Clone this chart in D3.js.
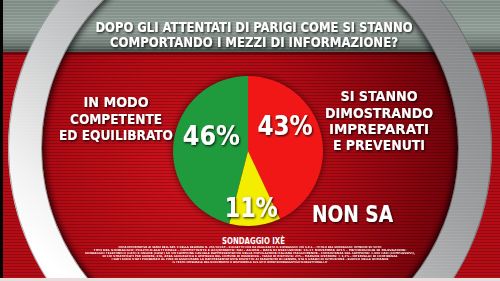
<!DOCTYPE html>
<html>
<head>
<meta charset="utf-8">
<script src="https://cdn.jsdelivr.net/npm/d3@7"></script>
<style>
  html, body { margin: 0; padding: 0; background: #000; }
  svg { display: block; }
  text { font-family: "Liberation Sans Narrow", "DejaVu Sans Condensed", "Liberation Sans", sans-serif; font-weight: bold; }
</style>
</head>
<body>
<div id="chart"></div>
<script>
// ---- DATA ----
const titleLines = ["DOPO GLI ATTENTATI DI PARIGI COME SI STANNO", "COMPORTANDO I MEZZI DI INFORMAZIONE?"];
const categories = ["IN MODO COMPETENTE ED EQUILIBRATO", "SI STANNO DIMOSTRANDO IMPREPARATI E PREVENUTI", "NON SA"];
const values = [46, 43, 11];
const leftLabelLines = ["IN MODO", "COMPETENTE", "ED EQUILIBRATO"];
const rightLabelLines = ["SI STANNO", "DIMOSTRANDO", "IMPREPARATI", "E PREVENUTI"];
const outsideLabel = "NON SA";
const sourceLabel = "SONDAGGIO IXÈ";
const footnoteLines = [
  "NOTA INFORMATIVA AI SENSI DELL'ART. 9 DELLA DELIBERA N. 256/10/CSP - SOGGETTO CHE HA REALIZZATO IL SONDAGGIO: IXÈ S.R.L. - TITOLO DEL SONDAGGIO: OPINIONI SU VOTO",
  "TIPO DEL SONDAGGIO: POLITICO-ELETTORALE - COMMITTENTE E ACQUIRENTE: RAI - AGORÀ - DATA DI ESECUZIONE: 16-17 NOVEMBRE 2015 - METODOLOGIA DI RILEVAZIONE:",
  "SONDAGGIO TELEFONICO (CATI) E ONLINE (CAWI) SU UN CAMPIONE CASUALE RAPPRESENTATIVO DELLA POPOLAZIONE ITALIANA MAGGIORENNE - CONSISTENZA DEL CAMPIONE: 1.000 CASI (COMPLESSIVI),",
  "DI CUI STRATIFICATI PER GENERE, ETÀ, AREA GEOGRAFICA E AMPIEZZA DEL COMUNE DI RESIDENZA - TASSO DI RISPOSTA: 21% - MARGINE D'ERRORE: ± 3,1% - INTERVALLO DI CONFIDENZA",
  "I DATI SONO STATI PONDERATI AL FINE DI ASSICURARE LA RAPPRESENTATIVITÀ RISPETTO AI PARAMETRI DI GENERE, ETÀ E GRADO DI ISTRUZIONE - ELENCO DELLE DOMANDE",
  "IL TESTO INTEGRALE DEL DOCUMENTO È DISPONIBILE SUL SITO WWW.SONDAGGIPOLITICOELETTORALI.IT"
];

// ---- STYLE / LAYOUT ----
const W = 500, H = 281;
const sliceColors = ["#1f9b3e", "#f21717", "#f3ed00"];
const pieC = { x: 248, y: 151, r: 75 };
const ring = { cx: 250, cy: 148, rIn: 208, rOut: 242 };
const pctNudge = [[8, 0], [-7, -6], [-1, 21]];
const pctLen = [57, 55, 53];

const svg = d3.select("#chart").append("svg").attr("width", W).attr("height", H);
const defs = svg.append("defs");

// scanlines
const scan = defs.append("pattern").attr("id", "scan").attr("patternUnits", "userSpaceOnUse")
  .attr("width", 4).attr("height", 3);
scan.append("rect").attr("y", 2).attr("width", 4).attr("height", 1).attr("fill", "rgba(0,0,0,0.2)");
const scanLight = defs.append("pattern").attr("id", "scanLight").attr("patternUnits", "userSpaceOnUse")
  .attr("width", 4).attr("height", 3);
scanLight.append("rect").attr("y", 0).attr("width", 4).attr("height", 1).attr("fill", "rgba(255,255,255,0.13)");

const rg = defs.append("radialGradient").attr("id", "redBg").attr("gradientUnits", "userSpaceOnUse")
  .attr("cx", 190).attr("cy", 175).attr("r", 310);
rg.append("stop").attr("offset", 0).attr("stop-color", "#d0121c");
rg.append("stop").attr("offset", 0.45).attr("stop-color", "#b00a14");
rg.append("stop").attr("offset", 0.8).attr("stop-color", "#7c030c");
rg.append("stop").attr("offset", 1).attr("stop-color", "#5a0008");

const bg = defs.append("linearGradient").attr("id", "band").attr("x1", 0).attr("y1", 0).attr("x2", 0).attr("y2", 1);
bg.append("stop").attr("offset", 0).attr("stop-color", "#7d8a84");
bg.append("stop").attr("offset", 0.55).attr("stop-color", "#8d9a93");
bg.append("stop").attr("offset", 0.85).attr("stop-color", "#6c7872");
bg.append("stop").attr("offset", 1).attr("stop-color", "#3c4540");

const ringG = defs.append("linearGradient").attr("id", "ringG").attr("gradientUnits", "userSpaceOnUse")
  .attr("x1", 420).attr("y1", -60).attr("x2", 90).attr("y2", 300);
ringG.append("stop").attr("offset", 0).attr("stop-color", "#808182");
ringG.append("stop").attr("offset", 0.35).attr("stop-color", "#9c9d9e");
ringG.append("stop").attr("offset", 0.65).attr("stop-color", "#c6c7c8");
ringG.append("stop").attr("offset", 0.9).attr("stop-color", "#f2f2f2");
ringG.append("stop").attr("offset", 1).attr("stop-color", "#ffffff");

const sh = defs.append("filter").attr("id", "tshadow").attr("x", "-20%").attr("y", "-40%").attr("width", "140%").attr("height", "180%");
sh.append("feDropShadow").attr("dx", 1).attr("dy", 1.2).attr("stdDeviation", 0.8)
  .attr("flood-color", "#000").attr("flood-opacity", 0.85);
const blur = defs.append("filter").attr("id", "blur").attr("x", "-20%").attr("y", "-20%").attr("width", "140%").attr("height", "140%");
blur.append("feGaussianBlur").attr("stdDeviation", 3);

defs.append("clipPath").attr("id", "innerClip").append("circle")
  .attr("cx", ring.cx).attr("cy", ring.cy).attr("r", ring.rIn);

// ---- BACKGROUND ----
svg.append("rect").attr("width", W).attr("height", H).attr("fill", "#b50c16");
svg.append("circle").attr("cx", ring.cx).attr("cy", ring.cy).attr("r", ring.rIn + 2).attr("fill", "url(#redBg)");
svg.append("rect").attr("width", W).attr("height", H).attr("fill", "url(#scan)");
// top band
svg.append("rect").attr("x", 0).attr("y", 0).attr("width", W).attr("height", 52).attr("fill", "url(#band)");
svg.append("rect").attr("x", 0).attr("y", 0).attr("width", W).attr("height", 52).attr("fill", "url(#scanLight)");
svg.append("rect").attr("x", 0).attr("y", 52).attr("width", W).attr("height", 3).attr("fill", "rgba(0,0,0,0.35)");
// inner shadow of ring
svg.append("circle").attr("cx", ring.cx).attr("cy", ring.cy).attr("r", ring.rIn + 2)
  .attr("fill", "none").attr("stroke", "rgba(0,0,0,0.7)").attr("stroke-width", 10)
  .attr("filter", "url(#blur)").attr("clip-path", "url(#innerClip)");
// ring
const rMid = (ring.rIn + ring.rOut) / 2;
svg.append("circle").attr("cx", ring.cx).attr("cy", ring.cy).attr("r", rMid)
  .attr("fill", "none").attr("stroke", "url(#ringG)").attr("stroke-width", ring.rOut - ring.rIn);
svg.append("circle").attr("cx", ring.cx).attr("cy", ring.cy).attr("r", rMid)
  .attr("fill", "none").attr("stroke", "url(#scanLight)").attr("stroke-width", ring.rOut - ring.rIn).attr("opacity", 0.5);
svg.append("circle").attr("cx", ring.cx).attr("cy", ring.cy).attr("r", ring.rIn + 0.5)
  .attr("fill", "none").attr("stroke", "rgba(60,60,60,0.5)").attr("stroke-width", 1);
svg.append("circle").attr("cx", ring.cx).attr("cy", ring.cy).attr("r", ring.rOut - 0.5)
  .attr("fill", "none").attr("stroke", "rgba(60,60,60,0.4)").attr("stroke-width", 1);
// frame edges
svg.append("rect").attr("x", 0).attr("y", 0).attr("width", 3).attr("height", H).attr("fill", "#050505");
svg.append("rect").attr("x", 0).attr("y", 278).attr("width", W).attr("height", 3).attr("fill", "#e9dede");

// ---- TITLE ----
const titleY = [32, 47], titleLen = [317, 288];
svg.append("g").selectAll("text").data(titleLines).join("text")
  .attr("x", 254).attr("y", (d, i) => titleY[i])
  .attr("text-anchor", "middle").attr("font-size", 14).attr("fill", "#fff")
  .attr("textLength", (d, i) => titleLen[i]).attr("lengthAdjust", "spacingAndGlyphs")
  .attr("filter", "url(#tshadow)").text(d => d);

// ---- PIE ----
const total = d3.sum(values);
const start = -values[0] / total * 2 * Math.PI;
const pie = d3.pie().sort(null).value(d => d).startAngle(start).endAngle(start + 2 * Math.PI);
const arcs = pie(values);
const arc = d3.arc().innerRadius(0).outerRadius(pieC.r);
const labelArc = d3.arc().innerRadius(45).outerRadius(45);
const gPie = svg.append("g").attr("transform", `translate(${pieC.x},${pieC.y})`);
gPie.append("circle").attr("r", pieC.r + 1).attr("fill", "rgba(0,0,0,0.45)").attr("filter", "url(#blur)");
gPie.selectAll("path").data(arcs).join("path")
  .attr("d", arc).attr("fill", (d, i) => sliceColors[i]);
gPie.selectAll("text").data(arcs).join("text")
  .attr("x", (d, i) => labelArc.centroid(d)[0] + pctNudge[i][0])
  .attr("y", (d, i) => labelArc.centroid(d)[1] + pctNudge[i][1])
  .attr("text-anchor", "middle").attr("font-size", 26).attr("fill", "#fff")
  .attr("textLength", (d, i) => pctLen[i]).attr("lengthAdjust", "spacingAndGlyphs")
  .attr("filter", "url(#tshadow)").text(d => d.data + "%");

// ---- CATEGORY LABELS ----
const leftY = [107, 123.5, 140], leftLen = [65, 92, 114];
svg.append("g").selectAll("text").data(leftLabelLines).join("text")
  .attr("x", 116).attr("y", (d, i) => leftY[i]).attr("text-anchor", "middle")
  .attr("font-size", 14).attr("fill", "#fff")
  .attr("textLength", (d, i) => leftLen[i]).attr("lengthAdjust", "spacingAndGlyphs")
  .attr("filter", "url(#tshadow)").text(d => d);

const rightY = [101, 117.5, 134, 150], rightLen = [77, 108, 100, 92];
svg.append("g").selectAll("text").data(rightLabelLines).join("text")
  .attr("x", 379).attr("y", (d, i) => rightY[i]).attr("text-anchor", "middle")
  .attr("font-size", 14).attr("fill", "#fff")
  .attr("textLength", (d, i) => rightLen[i]).attr("lengthAdjust", "spacingAndGlyphs")
  .attr("filter", "url(#tshadow)").text(d => d);

svg.append("text").attr("x", 352.5).attr("y", 222).attr("text-anchor", "middle")
  .attr("font-size", 23).attr("fill", "#fff").attr("textLength", 81).attr("lengthAdjust", "spacingAndGlyphs")
  .attr("filter", "url(#tshadow)").text(outsideLabel);

// ---- SOURCE & FOOTNOTE ----
svg.append("text").attr("x", 253.5).attr("y", 243.5).attr("text-anchor", "middle")
  .attr("font-size", 8).attr("fill", "#fff").attr("textLength", 63).attr("lengthAdjust", "spacingAndGlyphs")
  .text(sourceLabel);

const footY = [248, 251, 254, 257, 260, 263], footLen = [263, 313, 330, 295, 277, 155];
svg.append("g").selectAll("text").data(footnoteLines).join("text")
  .attr("x", 250).attr("y", (d, i) => footY[i]).attr("text-anchor", "middle")
  .attr("font-size", 2.8).attr("fill", "#fff").attr("opacity", 0.92)
  .attr("textLength", (d, i) => footLen[i]).attr("lengthAdjust", "spacingAndGlyphs")
  .text(d => d);
</script>
</body>
</html>
